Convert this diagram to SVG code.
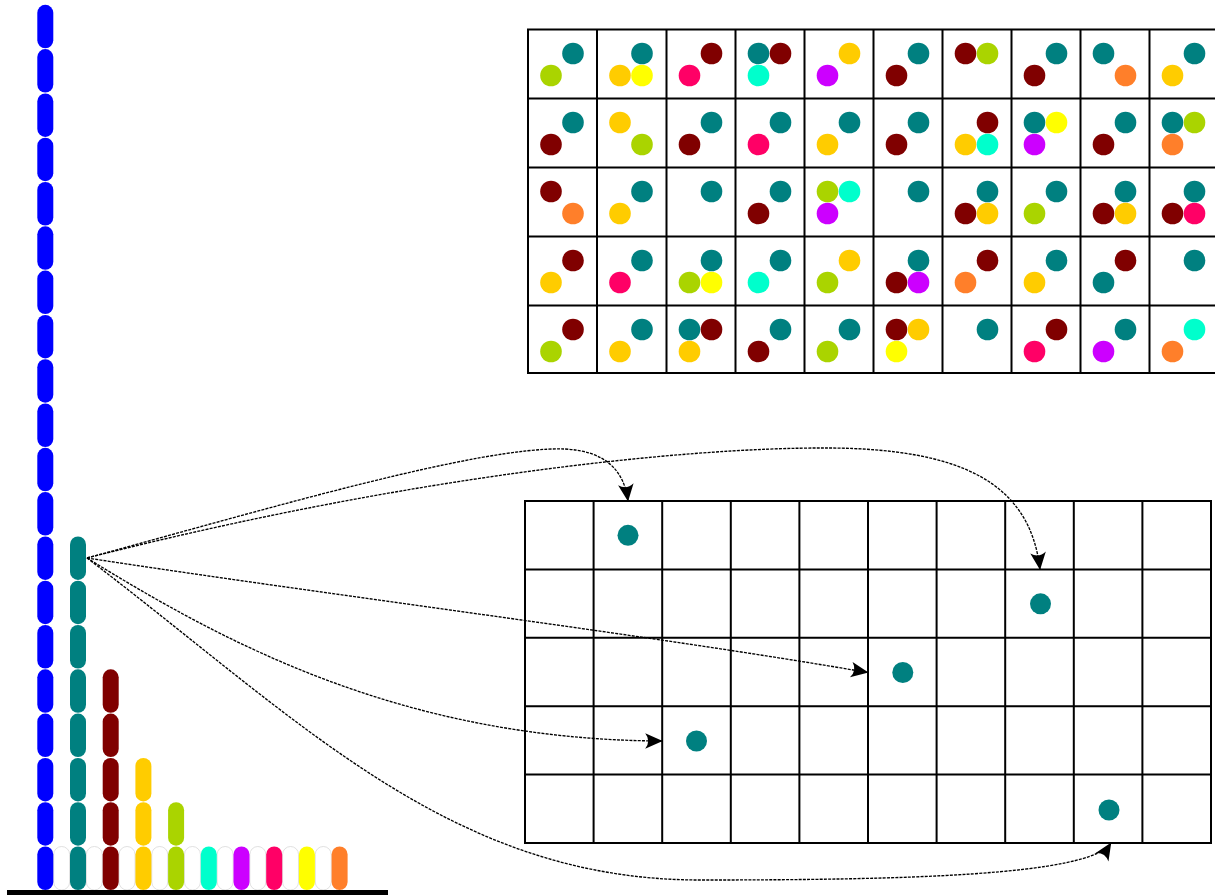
<svg xmlns="http://www.w3.org/2000/svg" xmlns:xlink="http://www.w3.org/1999/xlink" width="1215" height="895" viewBox="0 0 1215 895">
<style>
.grid{fill:none;stroke:#000;stroke-width:2}
.b{fill:#0000ff}.t{fill:#008080}.m{fill:#800000}.g{fill:#ffcc00}.l{fill:#aad400}
.c{fill:#00ffcc}.p{fill:#cc00ff}.k{fill:#ff0066}.y{fill:#ffff00}.o{fill:#ff7f2a}
.w{fill:#fff;stroke:#d8d8d8;stroke-width:0.8}
.conn{fill:none;stroke:#000;stroke-width:1.35;stroke-dasharray:3 1.2}
</style>
<defs>
<rect id="cap" width="16" height="43.5" rx="8" ry="8"/>
<circle id="s1" cx="23" cy="24" r="10.8"/>
<circle id="s2" cx="45" cy="24" r="10.8"/>
<circle id="s3" cx="23" cy="46" r="10.8"/>
<circle id="s4" cx="45" cy="46" r="10.8"/>
<marker id="arr" markerUnits="userSpaceOnUse" markerWidth="22" markerHeight="20" viewBox="-20 -10 22 20" refX="0" refY="0" orient="auto">
<path d="M0.5,0 L-17,-7.8 Q-11,0 -17,7.8 Z" fill="#000"/>
</marker>
</defs>
<rect width="1215" height="895" fill="#fff"/>

<g id="bars">
<g id="baseline-empty">
<use href="#cap" class="w" x="53.65" y="846.5"/>
<use href="#cap" class="w" x="86.35" y="846.5"/>
<use href="#cap" class="w" x="119.05" y="846.5"/>
<use href="#cap" class="w" x="151.75" y="846.5"/>
<use href="#cap" class="w" x="184.45" y="846.5"/>
<use href="#cap" class="w" x="217.15" y="846.5"/>
<use href="#cap" class="w" x="249.85" y="846.5"/>
<use href="#cap" class="w" x="282.55" y="846.5"/>
<use href="#cap" class="w" x="315.25" y="846.5"/>
</g>
<g id="bar-blue" class="b">
<use href="#cap" x="37.3" y="846.5"/><use href="#cap" x="37.3" y="802.2"/><use href="#cap" x="37.3" y="757.9"/><use href="#cap" x="37.3" y="713.6"/><use href="#cap" x="37.3" y="669.3"/>
<use href="#cap" x="37.3" y="625"/><use href="#cap" x="37.3" y="580.7"/><use href="#cap" x="37.3" y="536.4"/><use href="#cap" x="37.3" y="492.1"/><use href="#cap" x="37.3" y="447.8"/>
<use href="#cap" x="37.3" y="403.5"/><use href="#cap" x="37.3" y="359.2"/><use href="#cap" x="37.3" y="314.9"/><use href="#cap" x="37.3" y="270.6"/><use href="#cap" x="37.3" y="226.3"/>
<use href="#cap" x="37.3" y="182"/><use href="#cap" x="37.3" y="137.7"/><use href="#cap" x="37.3" y="93.4"/><use href="#cap" x="37.3" y="49.1"/><use href="#cap" x="37.3" y="4.8"/>
</g>
<g id="bar-teal" class="t">
<use href="#cap" x="70" y="846.5"/><use href="#cap" x="70" y="802.2"/><use href="#cap" x="70" y="757.9"/><use href="#cap" x="70" y="713.6"/>
<use href="#cap" x="70" y="669.3"/><use href="#cap" x="70" y="625"/><use href="#cap" x="70" y="580.7"/><use href="#cap" x="70" y="536.4"/>
</g>
<g id="bar-maroon" class="m">
<use href="#cap" x="102.7" y="846.5"/><use href="#cap" x="102.7" y="802.2"/><use href="#cap" x="102.7" y="757.9"/><use href="#cap" x="102.7" y="713.6"/><use href="#cap" x="102.7" y="669.3"/>
</g>
<g id="bar-gold" class="g">
<use href="#cap" x="135.4" y="846.5"/><use href="#cap" x="135.4" y="802.2"/><use href="#cap" x="135.4" y="757.9"/>
</g>
<g id="bar-lime" class="l">
<use href="#cap" x="168.1" y="846.5"/><use href="#cap" x="168.1" y="802.2"/>
</g>
<g id="bar-cyan" class="c"><use href="#cap" x="200.8" y="846.5"/></g>
<g id="bar-purple" class="p"><use href="#cap" x="233.5" y="846.5"/></g>
<g id="bar-pink" class="k"><use href="#cap" x="266.2" y="846.5"/></g>
<g id="bar-yellow" class="y"><use href="#cap" x="298.9" y="846.5"/></g>
<g id="bar-orange" class="o"><use href="#cap" x="331.6" y="846.5"/></g>
<rect id="baseline" x="7" y="890" width="381" height="5" fill="#000"/>
</g>

<g id="top-grid">
<g id="top-cells">
<g transform="translate(528,29.5)"><use href="#s2" class="t"/><use href="#s3" class="l"/></g>
<g transform="translate(597,29.5)"><use href="#s2" class="t"/><use href="#s3" class="g"/><use href="#s4" class="y"/></g>
<g transform="translate(666.5,29.5)"><use href="#s2" class="m"/><use href="#s3" class="k"/></g>
<g transform="translate(735.5,29.5)"><use href="#s1" class="t"/><use href="#s2" class="m"/><use href="#s3" class="c"/></g>
<g transform="translate(804.5,29.5)"><use href="#s2" class="g"/><use href="#s3" class="p"/></g>
<g transform="translate(873.5,29.5)"><use href="#s2" class="t"/><use href="#s3" class="m"/></g>
<g transform="translate(942.5,29.5)"><use href="#s1" class="m"/><use href="#s2" class="l"/></g>
<g transform="translate(1011.5,29.5)"><use href="#s2" class="t"/><use href="#s3" class="m"/></g>
<g transform="translate(1080.5,29.5)"><use href="#s1" class="t"/><use href="#s4" class="o"/></g>
<g transform="translate(1149.5,29.5)"><use href="#s2" class="t"/><use href="#s3" class="g"/></g>
<g transform="translate(528,98.5)"><use href="#s2" class="t"/><use href="#s3" class="m"/></g>
<g transform="translate(597,98.5)"><use href="#s1" class="g"/><use href="#s4" class="l"/></g>
<g transform="translate(666.5,98.5)"><use href="#s2" class="t"/><use href="#s3" class="m"/></g>
<g transform="translate(735.5,98.5)"><use href="#s2" class="t"/><use href="#s3" class="k"/></g>
<g transform="translate(804.5,98.5)"><use href="#s2" class="t"/><use href="#s3" class="g"/></g>
<g transform="translate(873.5,98.5)"><use href="#s2" class="t"/><use href="#s3" class="m"/></g>
<g transform="translate(942.5,98.5)"><use href="#s2" class="m"/><use href="#s3" class="g"/><use href="#s4" class="c"/></g>
<g transform="translate(1011.5,98.5)"><use href="#s1" class="t"/><use href="#s2" class="y"/><use href="#s3" class="p"/></g>
<g transform="translate(1080.5,98.5)"><use href="#s2" class="t"/><use href="#s3" class="m"/></g>
<g transform="translate(1149.5,98.5)"><use href="#s1" class="t"/><use href="#s2" class="l"/><use href="#s3" class="o"/></g>
<g transform="translate(528,167.5)"><use href="#s1" class="m"/><use href="#s4" class="o"/></g>
<g transform="translate(597,167.5)"><use href="#s2" class="t"/><use href="#s3" class="g"/></g>
<g transform="translate(666.5,167.5)"><use href="#s2" class="t"/></g>
<g transform="translate(735.5,167.5)"><use href="#s2" class="t"/><use href="#s3" class="m"/></g>
<g transform="translate(804.5,167.5)"><use href="#s1" class="l"/><use href="#s2" class="c"/><use href="#s3" class="p"/></g>
<g transform="translate(873.5,167.5)"><use href="#s2" class="t"/></g>
<g transform="translate(942.5,167.5)"><use href="#s2" class="t"/><use href="#s3" class="m"/><use href="#s4" class="g"/></g>
<g transform="translate(1011.5,167.5)"><use href="#s2" class="t"/><use href="#s3" class="l"/></g>
<g transform="translate(1080.5,167.5)"><use href="#s2" class="t"/><use href="#s3" class="m"/><use href="#s4" class="g"/></g>
<g transform="translate(1149.5,167.5)"><use href="#s2" class="t"/><use href="#s3" class="m"/><use href="#s4" class="k"/></g>
<g transform="translate(528,236.5)"><use href="#s2" class="m"/><use href="#s3" class="g"/></g>
<g transform="translate(597,236.5)"><use href="#s2" class="t"/><use href="#s3" class="k"/></g>
<g transform="translate(666.5,236.5)"><use href="#s2" class="t"/><use href="#s3" class="l"/><use href="#s4" class="y"/></g>
<g transform="translate(735.5,236.5)"><use href="#s2" class="t"/><use href="#s3" class="c"/></g>
<g transform="translate(804.5,236.5)"><use href="#s2" class="g"/><use href="#s3" class="l"/></g>
<g transform="translate(873.5,236.5)"><use href="#s2" class="t"/><use href="#s3" class="m"/><use href="#s4" class="p"/></g>
<g transform="translate(942.5,236.5)"><use href="#s2" class="m"/><use href="#s3" class="o"/></g>
<g transform="translate(1011.5,236.5)"><use href="#s2" class="t"/><use href="#s3" class="g"/></g>
<g transform="translate(1080.5,236.5)"><use href="#s2" class="m"/><use href="#s3" class="t"/></g>
<g transform="translate(1149.5,236.5)"><use href="#s2" class="t"/></g>
<g transform="translate(528,305.5)"><use href="#s2" class="m"/><use href="#s3" class="l"/></g>
<g transform="translate(597,305.5)"><use href="#s2" class="t"/><use href="#s3" class="g"/></g>
<g transform="translate(666.5,305.5)"><use href="#s1" class="t"/><use href="#s2" class="m"/><use href="#s3" class="g"/></g>
<g transform="translate(735.5,305.5)"><use href="#s2" class="t"/><use href="#s3" class="m"/></g>
<g transform="translate(804.5,305.5)"><use href="#s2" class="t"/><use href="#s3" class="l"/></g>
<g transform="translate(873.5,305.5)"><use href="#s1" class="m"/><use href="#s2" class="g"/><use href="#s3" class="y"/></g>
<g transform="translate(942.5,305.5)"><use href="#s2" class="t"/></g>
<g transform="translate(1011.5,305.5)"><use href="#s2" class="m"/><use href="#s3" class="k"/></g>
<g transform="translate(1080.5,305.5)"><use href="#s2" class="t"/><use href="#s3" class="p"/></g>
<g transform="translate(1149.5,305.5)"><use href="#s2" class="c"/><use href="#s3" class="o"/></g>
</g>
<g class="grid">
<rect x="528" y="29.5" width="690" height="343.5"/>
<path d="M597,29.5V373M666.5,29.5V373M735.5,29.5V373M804.5,29.5V373M873.5,29.5V373M942.5,29.5V373M1011.5,29.5V373M1080.5,29.5V373M1149.5,29.5V373M528,98.5H1218M528,167.5H1218M528,236.5H1218M528,305.5H1218"/>
</g>
</g>

<g id="bottom-grid">
<g class="grid">
<rect x="525" y="501" width="686" height="342"/>
<path d="M593.6,501V843M662.2,501V843M730.8,501V843M799.4,501V843M868,501V843M936.6,501V843M1005.2,501V843M1073.8,501V843M1142.4,501V843M525,569.4H1211M525,637.8H1211M525,706.2H1211M525,774.6H1211"/>
</g>
<g class="t">
<circle id="dot1" cx="628" cy="535.3" r="10.5"/>
<circle id="dot2" cx="1040.5" cy="603.8" r="10.5"/>
<circle id="dot3" cx="902.8" cy="672.5" r="10.5"/>
<circle id="dot4" cx="696.5" cy="741" r="10.5"/>
<circle id="dot5" cx="1109" cy="810" r="10.5"/>
</g>
</g>

<g id="connectors">
<path class="conn" marker-end="url(#arr)" d="M87,558 C270,508 480,446 565,449 C605,451 624,470 628,501"/>
<path class="conn" marker-end="url(#arr)" d="M87,558 C400,478 680,447 830,448 C960,449 1030,482 1040,569.4"/>
<path class="conn" marker-end="url(#arr)" d="M87,558 C350,598 650,635 868,672.5"/>
<path class="conn" marker-end="url(#arr)" d="M87,558 C220,640 400,740 662.2,741"/>
<path class="conn" marker-end="url(#arr)" d="M87,558 C300,720 450,880 700,880 C900,880 1090,876 1111,843"/>
</g>
</svg>
